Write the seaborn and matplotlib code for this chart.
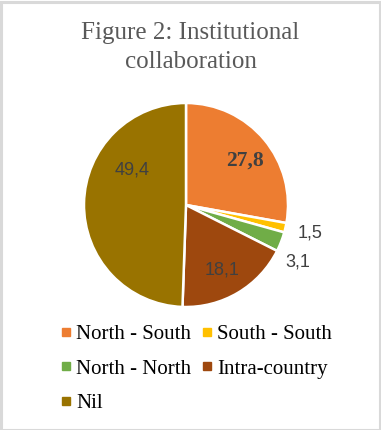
import numpy as np
import matplotlib
matplotlib.use("Agg")
import matplotlib.pyplot as plt
from matplotlib.lines import Line2D
from matplotlib.patches import Rectangle
import seaborn as sns

categories = ["North - South", "South - South", "North - North", "Intra-country", "Nil"]
values = [27.8, 1.5, 3.1, 18.1, 49.4]
value_labels = ["27,8", "1,5", "3,1", "18,1", "49,4"]
colors = ["#ED7D31", "#FFC000", "#70AD47", "#9E480E", "#997300"]

# label placement style (radius in pie-radius units, angle offset in degrees)
label_radius = [0.72, 1.25, 1.23, 0.73, 0.63]
label_angle_shift = [-3, 0, -6, -2, -32]
label_bold = [True, False, False, False, False]

sns.set_theme(style="white")
plt.rcParams['font.family'] = ['Liberation Serif', 'DejaVu Serif']

W, H = 381, 430
fig = plt.figure(figsize=(W / 100, H / 100), dpi=100)
fig.patch.set_facecolor("white")

cx, cy, r = 186, 205, 102
ax = fig.add_axes([(cx - r) / W, 1 - (cy + r) / H, 2 * r / W, 2 * r / H])
ax.axis("off")

wedges, _ = ax.pie(values, colors=colors, startangle=90, counterclock=False,
                   radius=1.0, center=(0, 0),
                   wedgeprops=dict(edgecolor="white", linewidth=1.8))
ax.set_xlim(-1, 1)
ax.set_ylim(-1, 1)
ax.set_aspect("auto")

for w, lab, rr, sh, bold in zip(wedges, value_labels, label_radius, label_angle_shift, label_bold):
    mid = np.deg2rad((w.theta1 + w.theta2) / 2 + sh)
    x, y = rr * np.cos(mid), rr * np.sin(mid)
    if bold:
        ax.text(x, y, lab, ha="center", va="center", fontsize=15.5, fontweight="bold",
                color="#404040", family=["Liberation Serif"])
    else:
        ax.text(x, y, lab, ha="center", va="center", fontsize=13,
                color="#404040", family=["Liberation Sans"], clip_on=False)

fig.text(0.5, 1 - 33 / H, "Figure 2: Institutional", ha="center", va="center",
         fontsize=18, color="#595959", family=["Liberation Serif"])
fig.text(0.5, 1 - 62 / H, "collaboration", ha="center", va="center",
         fontsize=18, color="#595959", family=["Liberation Serif"])

order = [0, 2, 4, 1, 3]
handles = [Line2D([0], [0], marker="s", linestyle="none", markersize=5.5,
                  markerfacecolor=colors[i], markeredgecolor=colors[i]) for i in order]
labels = [categories[i] for i in order]
leg = fig.legend(handles, labels, ncol=2, loc="upper left",
                 bbox_to_anchor=(50 / W, 1 - 314 / H), frameon=False,
                 prop=dict(family="Liberation Serif", size=15),
                 handlelength=0.5, handletextpad=0.25, columnspacing=0.5,
                 labelspacing=0.72, borderpad=0.0)
for t in leg.get_texts():
    t.set_color("#000000")

fig.patches.append(Rectangle((0.5 / W, 0.5 / H), 1 - 2 / W, 1 - 2 / H, transform=fig.transFigure,
                             fill=False, edgecolor="#D9D9D9", linewidth=2.2))

fig.savefig("out.png", dpi=100, facecolor="white")
